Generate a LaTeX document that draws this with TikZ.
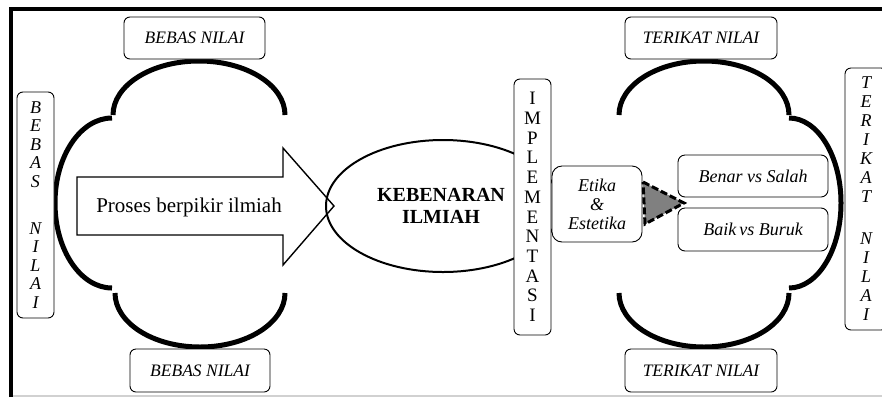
\documentclass[tikz,border=0pt]{standalone}
\usepackage{fontspec}
\setmainfont{Liberation Serif}
\begin{document}
\begin{tikzpicture}[x=1pt,y=-1pt,
  labelbox/.style={draw, rounded corners=6pt, line width=0.9pt, fill=white, inner sep=0pt,
    font=\fontsize{17.5}{19}\selectfont\itshape},
  vbox/.style={draw, rounded corners=6pt, line width=0.9pt, fill=white, inner sep=0pt, align=center},
  cloudarc/.style={line width=5pt},
  bigarrow/.style={line width=1.4pt, fill=white, line join=miter},
  valuebox/.style={draw, rounded corners=7pt, line width=0.9pt, fill=white, inner sep=0pt,
    font=\fontsize{18}{19}\selectfont\itshape}
]
\useasboundingbox (0,0) rectangle (882,397);

% frame
\draw[line width=2pt, black!18] (13,396) -- (882,396);
\draw[line width=4pt] (11,397) -- (11,9) -- (882,9);

% left cloud
\draw[cloudarc] (113,115) arc[start angle=180, end angle=0, x radius=86pt, y radius=54pt];
\draw[cloudarc] (112,118) arc[start angle=90, end angle=270, x radius=57pt, y radius=85pt];
\draw[cloudarc] (115,293) arc[start angle=180, end angle=360, x radius=85pt, y radius=54pt];

% right cloud
\draw[cloudarc] (619,115) arc[start angle=180, end angle=0, x radius=85pt, y radius=54pt];
\draw[cloudarc] (789,118) arc[start angle=90, end angle=-90, x radius=52pt, y radius=85pt];
\draw[cloudarc] (619,293) arc[start angle=180, end angle=360, x radius=85pt, y radius=54pt];

% block arrow
\draw[bigarrow] (77,177) -- (283,177) -- (283,148) -- (334,206) -- (283,265) -- (283,235) -- (77,235) -- cycle;
\node[font=\fontsize{21}{22}\selectfont, anchor=base] (proses) at (189,212) {Proses berpikir ilmiah};

% central ellipse
\draw[line width=2pt] (443,206) ellipse [x radius=117pt, y radius=66pt];
\node[font=\fontsize{20}{21.5}\selectfont\bfseries, align=center] (kebenaran) at (441,206) {KEBENARAN\\ILMIAH};

% vertical label boxes
\node[vbox, minimum width=37pt, minimum height=226pt, font=\fontsize{18}{18.5}\selectfont\itshape]
  (bebasV) at (35.5,205) {B\\E\\B\\A\\S\\\mbox{}\\[10pt]N\\I\\L\\A\\I};
\node[vbox, minimum width=37pt, minimum height=256pt, font=\fontsize{19}{19.7}\selectfont]
  (impl) at (532.5,207) {I\\M\\P\\L\\E\\M\\E\\N\\T\\A\\S\\I};
\node[vbox, minimum width=42pt, minimum height=262pt, font=\fontsize{18}{19}\selectfont\itshape]
  (terikatV) at (866,199) {T\\E\\R\\I\\K\\A\\T\\\mbox{}\\[4pt]N\\I\\L\\A\\I};

% ethics and aesthetics
\node[valuebox, rounded corners=10pt, minimum width=90pt, minimum height=76pt, align=center]
  (etika) at (597,204) {Etika\\\&\\Estetika};
\draw[line width=3pt, dash pattern=on 7pt off 3pt, fill=black!50, line join=miter]
  (643,182) -- (684,203) -- (645,224) -- cycle;
\node[valuebox, minimum width=150pt, minimum height=42pt] (benar) at (753,176) {Benar vs Salah};
\node[valuebox, minimum width=150pt, minimum height=43pt] (baik) at (753,229.5) {Baik\,vs Buruk};

% value labels above and below the clouds
\node[labelbox, minimum width=141pt, minimum height=42pt] (bebasT) at (194.5,38) {BEBAS NILAI};
\node[labelbox, minimum width=140pt, minimum height=43pt] (bebasB) at (200,370.5) {BEBAS NILAI};
\node[labelbox, minimum width=152pt, minimum height=42pt] (terikatT) at (701,38) {TERIKAT NILAI};
\node[labelbox, minimum width=152pt, minimum height=43pt] (terikatB) at (701,370.5) {TERIKAT NILAI};
\end{tikzpicture}
\end{document}
